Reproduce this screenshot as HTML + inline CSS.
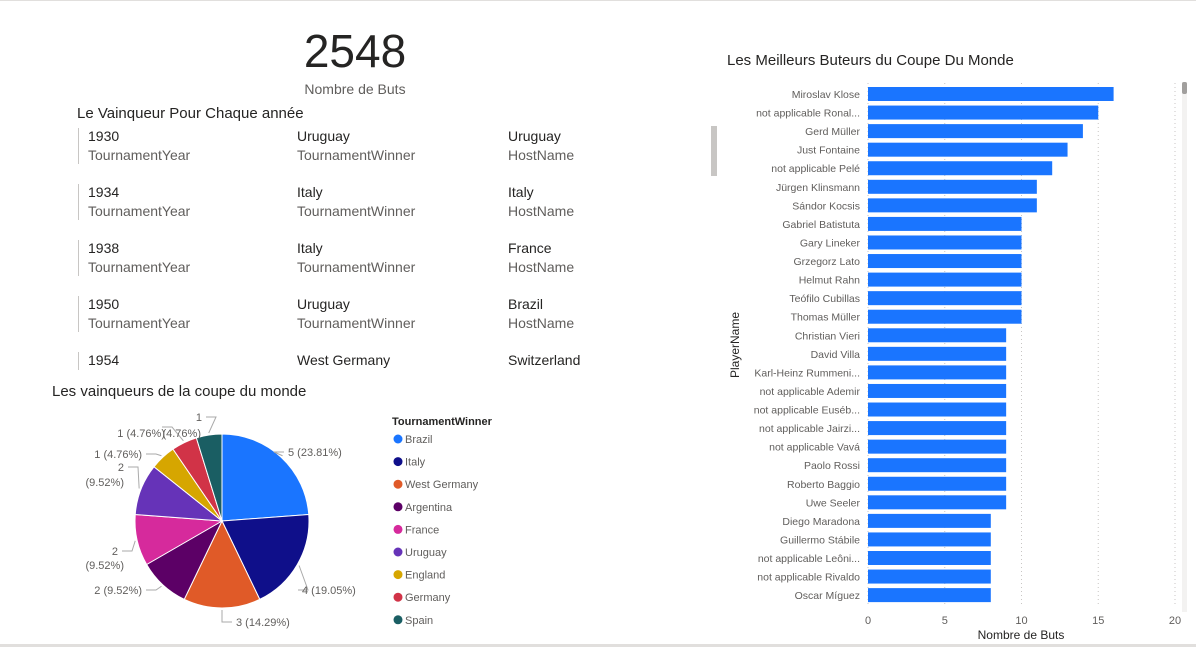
<!DOCTYPE html>
<html><head><meta charset="utf-8"><style>
body{margin:0;width:1196px;height:647px;background:#fff;font-family:"Liberation Sans",sans-serif;position:relative;overflow:hidden}
.a{position:absolute;white-space:nowrap}
.v{font-size:14px;color:#252423}
.l{font-size:14px;color:#605e5c}
.bar{position:absolute;width:1px;background:#c8c6c4;height:36px}
</style></head><body>
<div class="a" style="left:0;top:0;width:1196px;height:1px;background:#e1dfdd"></div>
<div class="a" style="left:0;top:644px;width:1196px;height:3px;background:#e1dfdd"></div>
<div class="a" style="left:290px;top:24px;width:130px;text-align:center;font-size:46px;color:#252423">2548</div>
<div class="a" style="left:290px;top:81px;width:130px;text-align:center;font-size:14px;color:#605e5c">Nombre de Buts</div>
<div class="a" style="left:77px;top:105px;font-size:15px;color:#252423">Le Vainqueur Pour Chaque année</div>
<div id="cards"></div>
<div class="a" style="left:711px;top:126px;width:6px;height:50px;background:#c8c6c4"></div>
<div class="a" style="left:52px;top:383px;font-size:15px;color:#252423">Les vainqueurs de la coupe du monde</div>
<svg class="a" style="left:0;top:400px" width="500" height="240" id="pie"></svg>
<div class="a" style="left:727px;top:52px;font-size:15px;color:#252423">Les Meilleurs Buteurs du Coupe Du Monde</div>
<svg class="a" style="left:720px;top:70px" width="476" height="577" id="bars"></svg>
<script>
const years=['1930','1934','1938','1950','1954'];
const winners=['Uruguay','Italy','Italy','Uruguay','West Germany'];
const hosts=['Uruguay','Italy','France','Brazil','Switzerland'];
const cards=document.getElementById('cards');
years.forEach((y,i)=>{const t=126+i*56;
 let h='';
 if(i<4)h+=`<div class="bar" style="left:78px;top:${t+2}px"></div>`;else h+=`<div class="bar" style="left:78px;top:${t+2}px;height:18px"></div>`;
 const cols=[[88,y,'TournamentYear'],[297,winners[i],'TournamentWinner'],[508,hosts[i],'HostName']];
 cols.forEach(c=>{h+=`<div class="a v" style="left:${c[0]}px;top:${t+2}px">${c[1]}</div>`;
  if(i<4)h+=`<div class="a l" style="left:${c[0]}px;top:${t+21}px">${c[2]}</div>`;});
 const d=document.createElement('div');
 
 
 d.innerHTML=h;cards.appendChild(d);});

const pieCats=['Brazil','Italy','West Germany','Argentina','France','Uruguay','England','Germany','Spain'];
const pieVals=[5,4,3,2,2,2,1,1,1];
const pieLabels=['5 (23.81%)','4 (19.05%)','3 (14.29%)','2 (9.52%)','2|(9.52%)','2|(9.52%)','1 (4.76%)','1 (4.76%)','1|(4.76%)'];
const pieColors=['#1a75ff','#0f0f8a','#e05a28','#5c0066','#d62a9c','#6633b8','#d6a600','#d13347','#1a5e63'];
const NS='http://www.w3.org/2000/svg';
const pie=document.getElementById('pie');
function mk(tag,at,p){const e=document.createElementNS(NS,tag);for(const k in at)e.setAttribute(k,at[k]);p.appendChild(e);return e;}
const cx=222,cy=121,R=87,tot=pieVals.reduce((a,b)=>a+b,0);
let ang=0;
// label layout: [x, y, anchor, leaderEndX, leaderEndY] per line handled below
const labLayout=[
 [[288,56,'start']],
 [[302,194,'start']],
 [[236,226,'start']],
 [[142,194,'end']],
 [[118,155,'end'],[124,169,'end']],
 [[124,71,'end'],[124,86,'end']],
 [[142,58,'end']],
 [[165,37,'end']],
 [[202,21,'end'],[201,37,'end']]];
const leadEnd=[[284,52],[298,190],[232,222],[146,190],[122,151],[128,67],[146,54],[162,27],[206,17]];
pieVals.forEach((v,i)=>{const a0=ang,a1=ang+v/tot*2*Math.PI;ang=a1;
 const p=(a)=>[cx+R*Math.sin(a),cy-R*Math.cos(a)];
 const [x0,y0]=p(a0),[x1,y1]=p(a1);
 const s=mk('path',{d:`M${cx},${cy}L${x0},${y0}A${R},${R} 0 ${a1-a0>Math.PI?1:0} 1 ${x1},${y1}Z`,fill:pieColors[i],stroke:'#fff','stroke-width':1},pie);
 
 
 const am=(a0+a1)/2,ex=cx+(R+2)*Math.sin(am),ey=cy-(R+2)*Math.cos(am);
 const [lx,ly]=leadEnd[i];
 const mx=lx+(ex>lx?10:-10);
 mk('polyline',{points:`${lx},${ly} ${mx},${ly} ${ex},${ey}`,fill:'none',stroke:'#aaa','stroke-width':1},pie);
 const parts=pieLabels[i].split('|');
 parts.forEach((t,j)=>{const lp=labLayout[i][j];const tx=mk('text',{x:lp[0],y:lp[1],'text-anchor':lp[2],'font-size':11,fill:'#605e5c'},pie);tx.textContent=t;
  
  });
});
const lt=mk('text',{x:392,y:25,'font-size':11,'font-weight':'bold',fill:'#252423'},pie);lt.textContent='TournamentWinner';


pieCats.forEach((c,i)=>{const y=39+i*22.6;
 const g=mk('g',{},pie);
 
 
 mk('circle',{cx:398,cy:y,r:4.5,fill:pieColors[i]},g);
 const t=mk('text',{x:405,y:y+4,'font-size':11,fill:'#605e5c'},g);t.textContent=c;});

const players=['Miroslav Klose','not applicable Ronal...','Gerd Müller','Just Fontaine','not applicable Pelé','Jürgen Klinsmann','Sándor Kocsis','Gabriel Batistuta','Gary Lineker','Grzegorz Lato','Helmut Rahn','Teófilo Cubillas','Thomas Müller','Christian Vieri','David Villa','Karl-Heinz Rummeni...','not applicable Ademir','not applicable Euséb...','not applicable Jairzi...','not applicable Vavá','Paolo Rossi','Roberto Baggio','Uwe Seeler','Diego Maradona','Guillermo Stábile','not applicable Leôni...','not applicable Rivaldo','Oscar Míguez'];
const goals=[16,15,14,13,12,11,11,10,10,10,10,10,10,9,9,9,9,9,9,9,9,9,9,8,8,8,8,8];
const ticks=[0,5,10,15,20];
const bs=document.getElementById('bars');
const X=v=>148+v*15.35, Y=i=>24+i*18.56;
ticks.forEach(t=>{mk('line',{x1:X(t),x2:X(t),y1:13,y2:536,stroke:'#c8c6c4','stroke-dasharray':'1 3'},bs);
 const tx=mk('text',{x:X(t),y:554,'text-anchor':'middle','font-size':11,fill:'#605e5c'},bs);tx.textContent=t;
 
 });
players.forEach((p,i)=>{const r=mk('rect',{x:X(0),y:Y(i)-7,width:X(goals[i])-X(0),height:14,fill:'#1a75ff'},bs);
 
 
 const t=mk('text',{x:140,y:Y(i)+4,'text-anchor':'end','font-size':10.5,fill:'#605e5c'},bs);t.textContent=p;
 
 });
const xt=mk('text',{x:301,y:569,'text-anchor':'middle','font-size':12,fill:'#252423'},bs);xt.textContent='Nombre de Buts';


const yt=mk('text',{x:0,y:0,transform:'translate(19,275) rotate(-90)','text-anchor':'middle','font-size':12,fill:'#252423'},bs);yt.textContent='PlayerName';


const sb=mk('rect',{x:462,y:12,width:5,height:530,fill:'#f3f2f1'},bs);


mk('rect',{x:462,y:12,width:5,height:12,rx:2,fill:'#a19f9d'},bs);
</script>
</body></html>
